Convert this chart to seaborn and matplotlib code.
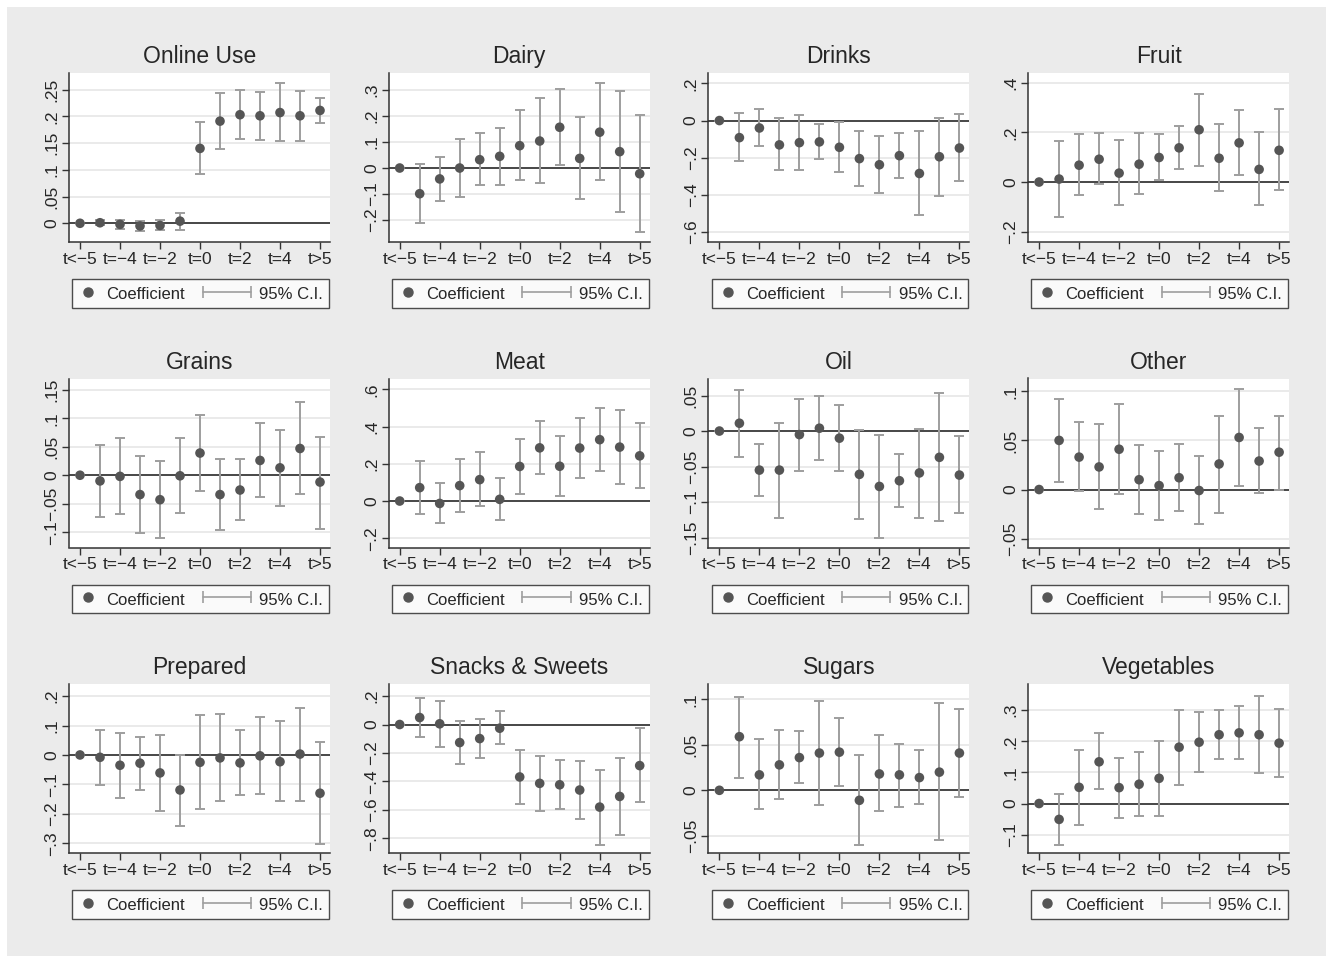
import seaborn as sns
import matplotlib.pyplot as plt
import numpy as np
from matplotlib.lines import Line2D
from matplotlib.patches import Rectangle
from matplotlib.legend_handler import HandlerLine2D

# event-time bins (13 points, every other one labelled)
periods = ['t<-5', 't=-5', 't=-4', 't=-3', 't=-2', 't=-1', 't=0',
           't=1', 't=2', 't=3', 't=4', 't=5', 't>5']
tick_periods = ['t<-5', 't=-4', 't=-2', 't=0', 't=2', 't=4', 't>5']

titles = ['Online Use', 'Dairy', 'Drinks', 'Fruit',
          'Grains', 'Meat', 'Oil', 'Other',
          'Prepared', 'Snacks & Sweets', 'Sugars', 'Vegetables']

online_coef = [0, 0.001, -0.002, -0.005, -0.004, 0.004, 0.140, 0.191, 0.203, 0.201, 0.207, 0.201, 0.211]
online_lo = [0, -0.004, -0.010, -0.014, -0.013, -0.012, 0.092, 0.138, 0.157, 0.156, 0.154, 0.154, 0.187]
online_hi = [0, 0.006, 0.006, 0.004, 0.006, 0.019, 0.189, 0.243, 0.250, 0.245, 0.262, 0.248, 0.234]

dairy_coef = [0, -0.099, -0.042, 0.000, 0.032, 0.045, 0.086, 0.104, 0.157, 0.037, 0.138, 0.063, -0.022]
dairy_lo = [0, -0.213, -0.126, -0.113, -0.066, -0.064, -0.046, -0.057, 0.012, -0.120, -0.046, -0.169, -0.245]
dairy_hi = [0, 0.014, 0.041, 0.111, 0.133, 0.156, 0.222, 0.268, 0.305, 0.197, 0.326, 0.296, 0.206]

drinks_coef = [0, -0.092, -0.040, -0.131, -0.119, -0.115, -0.144, -0.205, -0.238, -0.189, -0.285, -0.195, -0.148]
drinks_lo = [0, -0.218, -0.139, -0.268, -0.268, -0.209, -0.277, -0.351, -0.389, -0.310, -0.509, -0.405, -0.326]
drinks_hi = [0, 0.040, 0.061, 0.011, 0.032, -0.020, -0.007, -0.058, -0.083, -0.065, -0.056, 0.016, 0.034]

fruit_coef = [0, 0.012, 0.068, 0.092, 0.036, 0.072, 0.099, 0.138, 0.211, 0.096, 0.158, 0.051, 0.128]
fruit_lo = [0, -0.141, -0.054, -0.008, -0.093, -0.049, 0.007, 0.051, 0.066, -0.038, 0.028, -0.092, -0.032]
fruit_hi = [0, 0.166, 0.192, 0.196, 0.169, 0.196, 0.195, 0.227, 0.355, 0.234, 0.292, 0.200, 0.295]

grains_coef = [0, -0.010, -0.002, -0.034, -0.043, -0.001, 0.039, -0.034, -0.026, 0.026, 0.013, 0.047, -0.012]
grains_lo = [0, -0.073, -0.068, -0.101, -0.111, -0.067, -0.028, -0.096, -0.079, -0.039, -0.054, -0.033, -0.094]
grains_hi = [0, 0.054, 0.065, 0.034, 0.025, 0.066, 0.106, 0.029, 0.028, 0.092, 0.080, 0.128, 0.068]

meat_coef = [0, 0.072, -0.013, 0.083, 0.115, 0.009, 0.186, 0.286, 0.187, 0.285, 0.330, 0.290, 0.243]
meat_lo = [0, -0.070, -0.117, -0.058, -0.027, -0.103, 0.038, 0.146, 0.027, 0.126, 0.160, 0.094, 0.070]
meat_hi = [0, 0.214, 0.097, 0.225, 0.261, 0.122, 0.335, 0.430, 0.349, 0.445, 0.501, 0.490, 0.420]

oil_coef = [0, 0.011, -0.055, -0.055, -0.005, 0.004, -0.010, -0.061, -0.078, -0.070, -0.059, -0.037, -0.062]
oil_lo = [0, -0.036, -0.092, -0.122, -0.056, -0.041, -0.056, -0.124, -0.151, -0.107, -0.122, -0.127, -0.116]
oil_hi = [0, 0.058, -0.018, 0.012, 0.045, 0.049, 0.036, 0.002, -0.006, -0.032, 0.003, 0.054, -0.007]

other_coef = [0, 0.050, 0.033, 0.023, 0.041, 0.010, 0.004, 0.012, -0.001, 0.026, 0.053, 0.029, 0.038]
other_lo = [0, 0.0075, -0.001, -0.020, -0.005, -0.025, -0.031, -0.022, -0.035, -0.024, 0.004, -0.004, 0.000]
other_hi = [0, 0.092, 0.069, 0.067, 0.087, 0.045, 0.039, 0.046, 0.034, 0.075, 0.102, 0.063, 0.075]

prepared_coef = [0, -0.008, -0.035, -0.028, -0.061, -0.119, -0.025, -0.010, -0.027, -0.003, -0.023, 0.003, -0.130]
prepared_lo = [0, -0.101, -0.145, -0.118, -0.189, -0.240, -0.182, -0.156, -0.136, -0.134, -0.158, -0.155, -0.304]
prepared_hi = [0, 0.086, 0.075, 0.062, 0.068, 0.000, 0.136, 0.139, 0.085, 0.128, 0.115, 0.161, 0.044]

snacks_coef = [0, 0.049, 0.005, -0.127, -0.099, -0.026, -0.369, -0.414, -0.424, -0.461, -0.581, -0.506, -0.289]
snacks_lo = [0, -0.089, -0.158, -0.275, -0.235, -0.134, -0.562, -0.605, -0.591, -0.664, -0.845, -0.779, -0.548]
snacks_hi = [0, 0.184, 0.167, 0.026, 0.040, 0.092, -0.176, -0.221, -0.247, -0.256, -0.320, -0.235, -0.028]

sugars_coef = [0, 0.059, 0.017, 0.028, 0.036, 0.041, 0.042, -0.011, 0.018, 0.017, 0.014, 0.020, 0.041]
sugars_lo = [0, 0.014, -0.021, -0.010, 0.008, -0.016, 0.005, -0.060, -0.023, -0.018, -0.015, -0.055, -0.007]
sugars_hi = [0, 0.103, 0.056, 0.066, 0.065, 0.098, 0.080, 0.039, 0.061, 0.051, 0.044, 0.096, 0.090]

veg_coef = [0, -0.051, 0.052, 0.134, 0.051, 0.062, 0.081, 0.181, 0.197, 0.221, 0.227, 0.221, 0.194]
veg_lo = [0, -0.132, -0.070, 0.047, -0.046, -0.039, -0.041, 0.059, 0.102, 0.143, 0.143, 0.099, 0.085]
veg_hi = [0, 0.029, 0.173, 0.225, 0.146, 0.164, 0.201, 0.302, 0.295, 0.302, 0.313, 0.345, 0.303]

# y ticks per panel
yticks = [
    [0, .05, .1, .15, .2, .25],
    [-.2, -.1, 0, .1, .2, .3],
    [-.6, -.4, -.2, 0, .2],
    [-.2, 0, .2, .4],
    [-.1, -.05, 0, .05, .1, .15],
    [-.2, 0, .2, .4, .6],
    [-.15, -.1, -.05, 0, .05],
    [-.05, 0, .05, .1],
    [-.3, -.2, -.1, 0, .1, .2],
    [-.8, -.6, -.4, -.2, 0, .2],
    [-.05, 0, .05, .1],
    [-.1, 0, .1, .2, .3],
]
ylims = [(-0.035, 0.281), (-0.285, 0.366), (-0.654, 0.256), (-0.242, 0.44),
         (-0.127, 0.170), (-0.250, 0.659), (-0.164, 0.074), (-0.059, 0.113),
         (-0.333, 0.241), (-0.904, 0.285), (-0.069, 0.117), (-0.159, 0.384)]

coefs = [online_coef, dairy_coef, drinks_coef, fruit_coef, grains_coef, meat_coef,
         oil_coef, other_coef, prepared_coef, snacks_coef, sugars_coef, veg_coef]
lows = [online_lo, dairy_lo, drinks_lo, fruit_lo, grains_lo, meat_lo,
        oil_lo, other_lo, prepared_lo, snacks_lo, sugars_lo, veg_lo]
highs = [online_hi, dairy_hi, drinks_hi, fruit_hi, grains_hi, meat_hi,
         oil_hi, other_hi, prepared_hi, snacks_hi, sugars_hi, veg_hi]


def stata_label(v):
    s = f"{v:.2f}".rstrip('0').rstrip('.')
    if s in ('0', '-0', ''):
        return '0'
    s = s.replace('0.', '.')
    return s.replace('-', '\u2212')


class WideCapLine(HandlerLine2D):
    # capped CI key that reaches back into the column gap, like Stata's rcap key
    def get_xdata(self, legend, xdescent, ydescent, width, height, fontsize):
        xd = np.array([-xdescent - 1.7 * fontsize, width])
        return xd, xd


sns.set_style('white')
plt.rcParams['font.family'] = ['Liberation Sans', 'DejaVu Sans']

W, H = 1333, 963
fig = plt.figure(figsize=(W / 100, H / 100), dpi=100)
fig.patch.set_facecolor('white')
fig.patches.append(Rectangle((7 / W, 7 / H), 1 - 14 / W, 1 - 14 / H,
                             transform=fig.transFigure, facecolor='#ebebeb',
                             edgecolor='none', zorder=-10))

marker_col = '#555555'
ci_col = '#9e9e9e'
x = np.arange(len(periods))
tick_pos = [periods.index(p) for p in tick_periods]

for i, title in enumerate(titles):
    r, c = divmod(i, 4)
    left = 69 + 319.7 * c
    bottom = 242 + 305.5 * r
    ax = fig.add_axes([left / W, 1 - bottom / H, 261 / W, 169 / H])
    ax.set_facecolor('white')

    coef = np.array(coefs[i])
    lo = np.array(lows[i])
    hi = np.array(highs[i])

    ax.set_yticks(yticks[i])
    ax.set_yticklabels([stata_label(v) for v in yticks[i]], rotation=90,
                       va='center', fontsize=12.5)
    ax.yaxis.grid(True, color='#e8e8e8', lw=1.3)
    ax.set_axisbelow(True)
    ax.axhline(0, color='#3a3a3a', lw=1.3, zorder=2)

    ax.errorbar(x, coef, yerr=[coef - lo, hi - coef], fmt='none', ecolor=ci_col,
                elinewidth=1.4, capsize=3.5, capthick=1.4, zorder=3)
    sns.scatterplot(x=x, y=coef, ax=ax, color=marker_col, s=48,
                    edgecolor='none', zorder=4, legend=False)

    ax.set_xticks(tick_pos)
    ax.set_xticklabels([p.replace('-', '\u2212') for p in tick_periods], fontsize=12.5)
    ax.set_xlim(-0.55, 12.5)
    ax.set_ylim(*ylims[i])
    ax.set_xlabel('')
    ax.set_ylabel('')
    ax.set_title(title, fontsize=16.5, pad=7)

    for side in ('top', 'right'):
        ax.spines[side].set_visible(False)
    for side in ('left', 'bottom'):
        ax.spines[side].set_color('#333333')
        ax.spines[side].set_linewidth(1.1)
    ax.tick_params(axis='both', direction='out', length=5, width=1.0,
                   color='#333333', pad=2, left=True, bottom=True)

    h_coef = Line2D([], [], marker='o', ls='', color=marker_col, markersize=6.5)
    h_ci = Line2D([], [], marker='|', color=ci_col, lw=1.2, markersize=8,
                  markeredgewidth=1.2)
    leg = ax.legend([h_coef, h_ci], ['Coefficient', '95% C.I.'], ncol=2,
                    loc='upper center', bbox_to_anchor=(0.504, -0.219),
                    borderaxespad=0, fontsize=12, frameon=True, fancybox=False,
                    handlelength=1.2, handleheight=1.2, handletextpad=0.5,
                    columnspacing=2.75, borderpad=0.35,
                    handler_map={h_ci: WideCapLine(numpoints=2)})
    leg.get_frame().set_edgecolor('#222222')
    leg.get_frame().set_linewidth(1.0)
    leg.get_frame().set_facecolor('white')

plt.savefig('out.png', dpi=100)
plt.close()
